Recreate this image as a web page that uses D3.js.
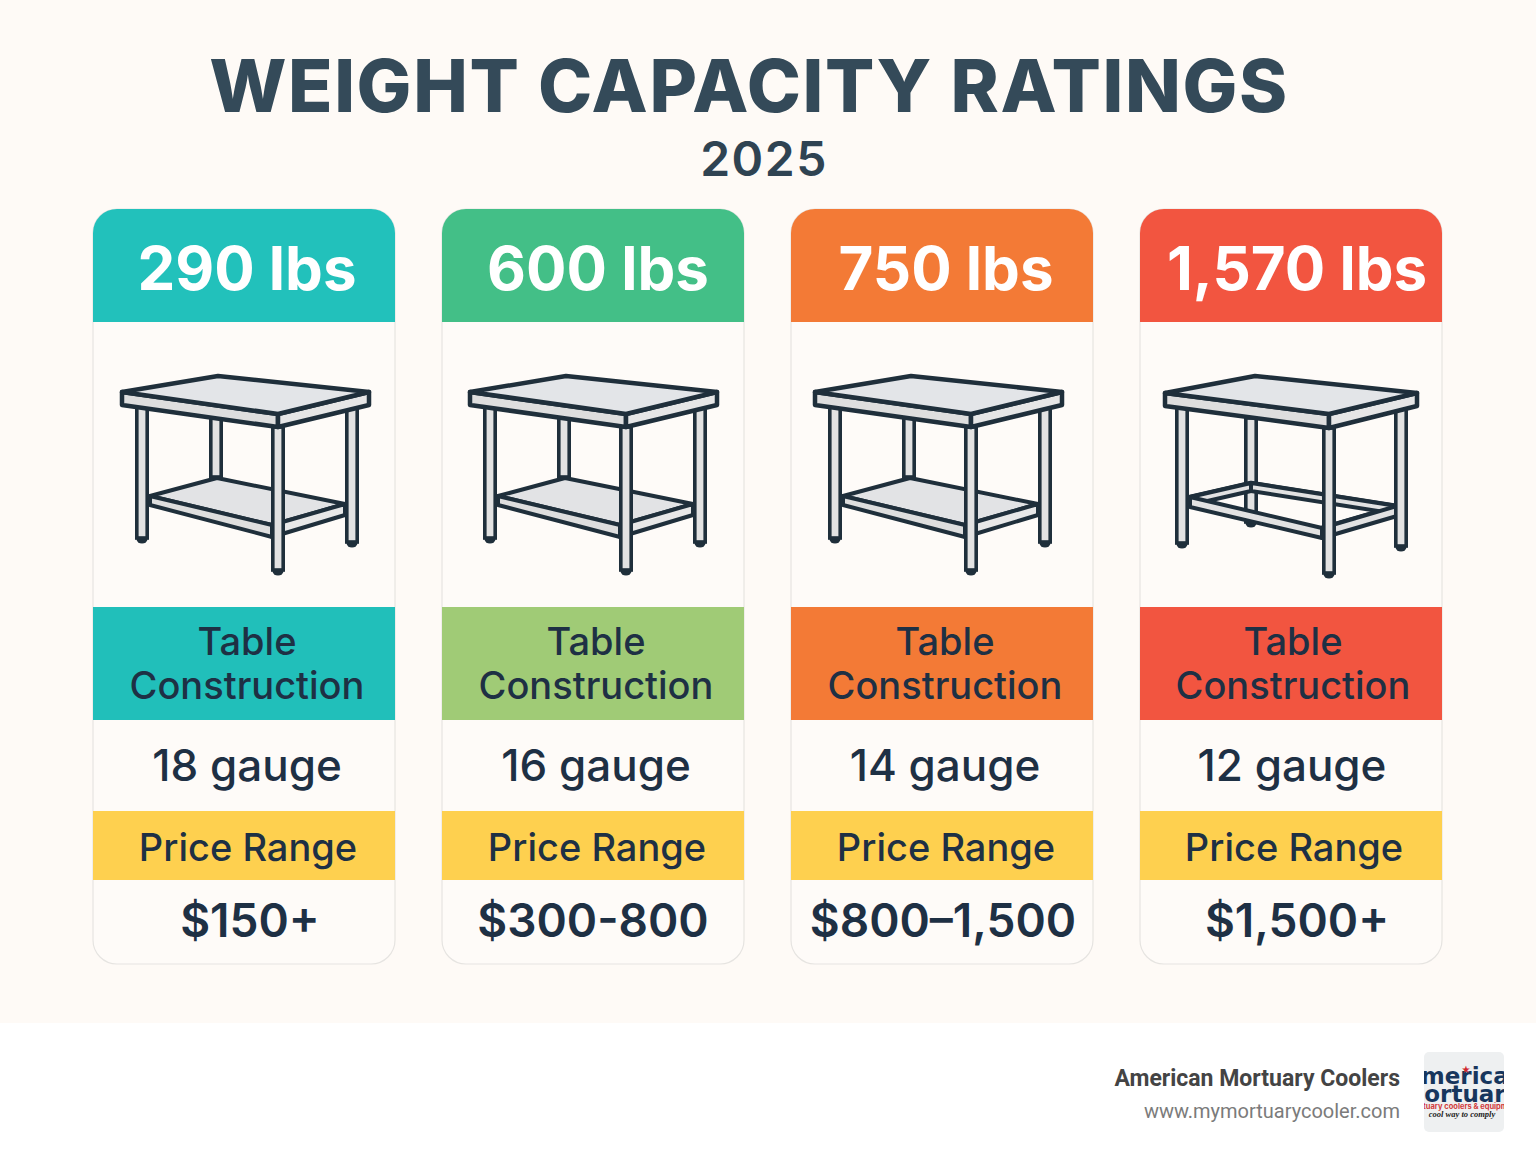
<!DOCTYPE html>
<html><head><meta charset="utf-8">
<script src="https://cdnjs.cloudflare.com/ajax/libs/d3/7.9.0/d3.min.js"></script>
<style>html,body{margin:0;padding:0;background:#fff}svg{display:block}text{font-family:Inter,"Noto Sans",sans-serif}</style>
</head><body><svg id="c" width="1536" height="1154"></svg>
<script>
const categories = ["Light", "Medium", "Heavy", "Extra heavy"];
const capacities = ["290 lbs", "600 lbs", "750 lbs", "1,570 lbs"];
const gauges = ["18 gauge", "16 gauge", "14 gauge", "12 gauge"];
const prices = ["$150+", "$300-800", "$800\u20131,500", "$1,500+"];
const headColors = ["#22c1bb", "#43bf87", "#f37a36", "#f25540"];
const bandColors = ["#21bfba", "#a0cb76", "#f37a36", "#f25540"];
const capCenters = [247, 598, 946, 1297];
const bandCenters = [247, 596, 945, 1293];
const gaugeCenters = [247, 596, 945, 1292];
const priceCenters = [250, 593, 943, 1297];
const tableLefts = [122, 470, 815, 1165];
const tableWidths = [247, 247, 252, 252];
const ink = "#1f2f3b", textC = "#1e3044";

const svg = d3.select("#c");
svg.append("rect").attr("width",1536).attr("height",1023).attr("fill","#fefaf6");
svg.append("text").attr("x",749).attr("y",112).attr("text-anchor","middle").attr("font-size",73).attr("font-weight",800)
  .attr("letter-spacing",1.6).attr("fill","#344a59").text("WEIGHT CAPACITY RATINGS");
svg.append("text").attr("x",764).attr("y",176).attr("text-anchor","middle").attr("font-size",48).attr("font-weight",600)
  .attr("letter-spacing",1.5).attr("fill","#2f4352").text("2025");

const x = d3.scaleBand().domain(categories).range([93,1442]).paddingInner(47/349);
const w = x.bandwidth();
const rows = {top:209, headEnd:322, band:607, bandEnd:720, price:811, priceEnd:880, bottom:964};
const defs = svg.append("defs");
defs.append("clipPath").attr("id","logoClip").append("rect").attr("x",1424).attr("y",1052).attr("width",80).attr("height",80).attr("rx",5);

const cards = svg.selectAll("g.card").data(categories).join("g").attr("class","card");
cards.append("rect").attr("x",d=>x(d)).attr("y",rows.top).attr("width",w).attr("height",rows.bottom-rows.top).attr("rx",24)
  .attr("fill","#fefbf8").attr("stroke","#e6e4e1").attr("stroke-width",1.2);
cards.append("path").attr("fill",(d,i)=>headColors[i]).attr("d",d=>{
  const p=d3.path(),l=x(d),r=l+w,t=rows.top,b=rows.headEnd,k=24;
  p.moveTo(l,b);p.lineTo(l,t+k);p.arcTo(l,t,l+k,t,k);p.lineTo(r-k,t);p.arcTo(r,t,r,t+k,k);p.lineTo(r,b);p.closePath();return p.toString();});
cards.append("rect").attr("x",d=>x(d)).attr("y",rows.band).attr("width",w).attr("height",rows.bandEnd-rows.band).attr("fill",(d,i)=>bandColors[i]);
cards.append("rect").attr("x",d=>x(d)).attr("y",rows.price).attr("width",w).attr("height",rows.priceEnd-rows.price).attr("fill","#fed04f");
const centered=(sel,cx,y,size,weight,fill,txt,ls)=>sel.append("text").attr("x",cx).attr("y",y).attr("text-anchor","middle")
  .attr("font-size",size).attr("font-weight",weight).attr("fill",fill).attr("letter-spacing",ls||0).text(txt);
cards.each(function(d,i){
  const g=d3.select(this);
  centered(g,capCenters[i],290,60,700,"#fff",capacities[i]);
  centered(g,bandCenters[i],655,38,500,textC,"Table");
  centered(g,bandCenters[i],699,38,500,textC,"Construction");
  centered(g,gaugeCenters[i],781,44,500,textC,gauges[i]);
  centered(g,bandCenters[i]+1,861,38,500,textC,"Price Range");
  centered(g,priceCenters[i],937,46,600,textC,prices[i]);
});

// table illustration: unit drawing space 0..250 wide, mapped per card by scales
const shelfGeom = {top:[[0,16],[96,0],[247,16],[156,38]],edge:[[0,29],[156,51],[247,29]],
  legs:[[20,31,162],[230,28,166],[156,51,194]],back:[94,42,101]};
const frameGeom = {top:[[0,17],[90,0],[252,17],[164,38]],edge:[[0,30],[164,52],[252,30]],
  legs:[[17,31,167],[236,28,170],[164,52,197]],back:[86,42,146]};
function drawTable(g,i){
  const ge=i===3?frameGeom:shelfGeom;
  const sx=d3.scaleLinear().domain([0,tableWidths[i]]).range([tableLefts[i],tableLefts[i]+tableWidths[i]]);
  const sy=d3.scaleLinear().domain([0,200]).range([376,576]);
  const line=pts=>"M"+pts.map(p=>sx(p[0])+","+sy(p[1])).join("L")+"Z";
  const poly=(pts,fill,sw)=>g.append("path").attr("d",line(pts)).attr("fill",fill).attr("stroke",ink).attr("stroke-width",sw||4.5).attr("stroke-linejoin","round");
  const leg=(cx,y0,y1,cap)=>{
    if(cap) g.append("ellipse").attr("cx",sx(cx)).attr("cy",sy(y1+1)).attr("rx",5.5).attr("ry",4.5).attr("fill",ink);
    g.append("rect").attr("x",sx(cx)-5.2).attr("y",sy(y0)).attr("width",10.4).attr("height",y1-y0).attr("fill","#e2e2e2").attr("stroke",ink).attr("stroke-width",3.6);
  };
  leg(ge.back[0],ge.back[1],ge.back[2],i===3);
  if(i<3){
    poly([[28,120],[95,102],[223,128],[150,149]],"#e2e3e5",4);
    poly([[28,120],[150,149],[150,161],[28,129]],"#dedede",4);
    poly([[150,149],[223,128],[223,139],[150,161]],"#e8e8e8",4);
  } else {
    poly([[25,121],[86,107],[232,130],[157,152],[157,160],[25,129]],"none",0);
    const bar=(a,b,h)=>poly([a,b,[b[0],b[1]+h],[a[0],a[1]+h]],"#e2e2e2",4);
    bar([25,121],[86,107],8); bar([86,107],[232,130],8);
    bar([25,121],[157,152],10); bar([157,152],[232,130],10);
  }
  leg(ge.legs[0][0],ge.legs[0][1],ge.legs[0][2],true);
  leg(ge.legs[1][0],ge.legs[1][1],ge.legs[1][2],true);
  leg(ge.legs[2][0],ge.legs[2][1],ge.legs[2][2],true);
  const [L,B,R,F]=ge.top,[eL,eF,eR]=ge.edge;
  poly([L,F,eF,eL],"#dedede");
  poly([F,R,eR,eF],"#e6e6e6");
  poly(ge.top,"#e3e5e8");
}
cards.each(function(d,i){drawTable(d3.select(this).append("g"),i);});

// footer
svg.append("text").attr("x",1400).attr("y",1086).attr("text-anchor","end").attr("font-size",23).attr("font-weight",700).attr("fill","#444")
  .style("font-family","Roboto").text("American Mortuary Coolers");
svg.append("text").attr("x",1400).attr("y",1118).attr("text-anchor","end").attr("font-size",20).attr("fill","#7b7b7b")
  .style("font-family","Roboto").text("www.mymortuarycooler.com");
const logo=svg.append("g").attr("clip-path","url(#logoClip)");
logo.append("rect").attr("x",1424).attr("y",1052).attr("width",80).attr("height",80).attr("fill","#eef0f1");
logo.append("text").attr("x",1464).attr("y",1084).attr("text-anchor","middle").attr("font-size",23).attr("font-weight",700).attr("fill","#17365d").style("font-family","'DejaVu Sans'").text("American");
logo.append("text").attr("x",1461).attr("y",1102).attr("text-anchor","middle").attr("font-size",23).attr("font-weight",700).attr("fill","#17365d").style("font-family","'DejaVu Sans'").text("Mortuary");
logo.append("text").attr("x",1464).attr("y",1109).attr("text-anchor","middle").attr("font-size",7.5).attr("font-weight",700).attr("fill","#d23b3b").text("mortuary coolers & equipment");
logo.append("text").attr("x",1462).attr("y",1117).attr("text-anchor","middle").attr("font-size",8.5).attr("font-style","italic").attr("font-weight",700).attr("fill","#222").style("font-family","'Liberation Serif'").text("cool way to comply");
logo.append("text").attr("x",1466).attr("y",1073).attr("text-anchor","middle").attr("font-size",9).attr("fill","#d0262c").text("\u2605");
</script></body></html>
